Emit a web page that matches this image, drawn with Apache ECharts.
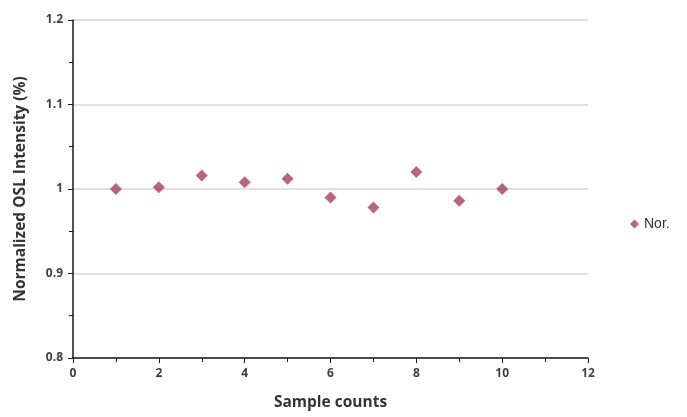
<!DOCTYPE html>
<html lang="en">

<head>
    <meta charset="UTF-8">
    <title>Normalized OSL Intensity</title>
    <script src="https://cdn.jsdelivr.net/npm/echarts/dist/echarts.min.js"></script>
    <style>
        html, body {
            margin: 0;
            height: 100%;
            background: #fff;
        }

        #chart {
            width: 687px;
            height: 417px;
        }
    </style>
</head>

<body>
    <div id="chart"></div>
    <script>
        // sample counts and normalized intensity
        var sampleCounts = [1, 2, 3, 4, 5, 6, 7, 8, 9, 10];
        var norValues = [1.000, 1.002, 1.016, 1.008, 1.012, 0.990, 0.978, 1.020, 0.986, 1.000];
        var seriesName = 'Nor.';

        var points = sampleCounts.map(function (x, i) {
            return [x, norValues[i]];
        });

        var labelStyle = {
            color: '#404040',
            fontFamily: 'Open Sans',
            fontWeight: 'bold',
            fontSize: 12
        };
        var nameStyle = {
            color: '#333333',
            fontFamily: 'Open Sans',
            fontWeight: 'bold',
            fontSize: 15.5
        };

        var chart = echarts.init(document.getElementById('chart'));
        chart.setOption({
            animation: false,
            grid: {
                left: 73,
                right: 99,
                top: 20,
                bottom: 59
            },
            legend: {
                data: [seriesName],
                orient: 'vertical',
                left: 625,
                top: 212,
                icon: 'diamond',
                itemWidth: 9,
                itemHeight: 9,
                itemGap: 4,
                textStyle: {
                    color: '#303030',
                    fontFamily: 'Liberation Sans',
                    fontSize: 14
                }
            },
            xAxis: {
                type: 'value',
                min: 0,
                max: 12,
                interval: 2,
                name: 'Sample counts',
                nameLocation: 'middle',
                nameGap: 37,
                nameTextStyle: nameStyle,
                axisLine: { onZero: false, lineStyle: { color: '#1a1a1a', width: 1.5 } },
                axisTick: { show: true, length: 5, lineStyle: { color: '#1a1a1a' } },
                minorTick: { show: true, splitNumber: 2, length: 4, lineStyle: { color: '#1a1a1a' } },
                axisLabel: Object.assign({ margin: 10 }, labelStyle),
                splitLine: { show: false }
            },
            yAxis: {
                type: 'value',
                min: 0.8,
                max: 1.2,
                interval: 0.1,
                name: 'Normalized OSL Intensity (%)',
                nameLocation: 'middle',
                nameGap: 44,
                nameTextStyle: nameStyle,
                axisLine: { show: true, lineStyle: { color: '#1a1a1a', width: 1.5 } },
                axisTick: { show: true, length: 5, lineStyle: { color: '#1a1a1a' } },
                minorTick: { show: true, splitNumber: 2, length: 4, lineStyle: { color: '#1a1a1a' } },
                axisLabel: Object.assign({
                    margin: 10,
                    formatter: function (v) {
                        return v === 1 ? '1' : v.toFixed(1);
                    }
                }, labelStyle),
                splitLine: { show: true, lineStyle: { color: '#d6d6d6', width: 1.5 } }
            },
            series: [{
                name: seriesName,
                type: 'scatter',
                symbol: 'diamond',
                symbolSize: 12,
                itemStyle: { color: '#a6405a' },
                data: points
            }]
        });
    </script>
</body>

</html>
